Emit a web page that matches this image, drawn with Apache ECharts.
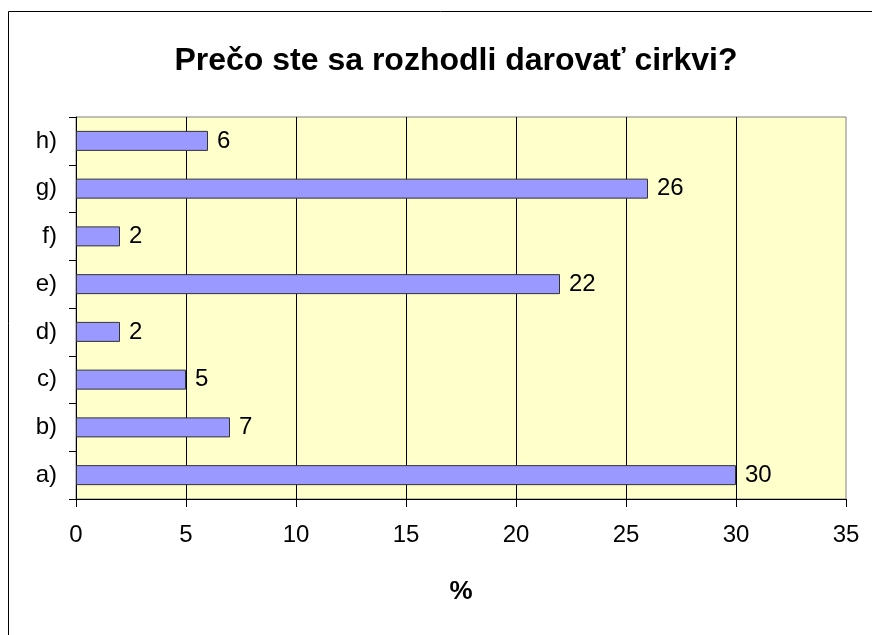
<!DOCTYPE html>
<html>
<head>
<meta charset="utf-8">
<script src="https://cdn.jsdelivr.net/npm/echarts@6/dist/echarts.min.js"></script>
<style>
  html, body { margin: 0; padding: 0; background: #fff; }
  #main { width: 872px; height: 635px; }
</style>
</head>
<body>
<div id="main"></div>
<script>
// údaje z grafu
var categories = ['a)', 'b)', 'c)', 'd)', 'e)', 'f)', 'g)', 'h)'];
var values = [30, 7, 5, 2, 22, 2, 26, 6];
var xTicks = { min: 0, max: 35, interval: 5 };

var chart = echarts.init(document.getElementById('main'));
var option = {
    backgroundColor: '#ffffff',
    animation: false,
    textStyle: { fontFamily: 'Liberation Sans, Arial, sans-serif' },
    title: {
        text: 'Prečo ste sa rozhodli darovať cirkvi?',
        left: 451,
        textAlign: 'center',
        top: 40,
        textStyle: { fontSize: 32, fontWeight: 'bold', color: '#000', fontFamily: 'Liberation Sans, Arial, sans-serif' }
    },
    graphic: [{
        type: 'rect',
        shape: { x: 8.5, y: 11.5, width: 900, height: 700 },
        style: { fill: 'none', stroke: '#000', lineWidth: 1 },
        silent: true
    }],
    grid: {
        left: 76, right: 26, top: 117, bottom: 136,
        show: true,
        backgroundColor: '#FFFFCC',
        borderColor: '#808080',
        borderWidth: 1
    },
    xAxis: {
        type: 'value',
        min: xTicks.min, max: xTicks.max, interval: xTicks.interval,
        name: '%',
        nameLocation: 'middle',
        nameGap: 80,
        nameTextStyle: { fontSize: 26, fontWeight: 'bold', color: '#000' },
        axisLine: { show: true, lineStyle: { color: '#000', width: 1 } },
        axisTick: { show: true, length: 8, lineStyle: { color: '#000' } },
        axisLabel: { fontSize: 24, color: '#000', margin: 24 },
        splitLine: { show: true, showMinLine: false, showMaxLine: false, lineStyle: { color: '#000', width: 1 } }
    },
    yAxis: {
        type: 'category',
        data: categories,
        axisLine: { show: true, lineStyle: { color: '#000', width: 1 } },
        axisTick: { show: true, length: 7, lineStyle: { color: '#000' } },
        axisLabel: { fontSize: 24, color: '#000', margin: 19 },
        splitLine: { show: false }
    },
    series: [{
        type: 'bar',
        data: values,
        barWidth: 20,
        itemStyle: { color: '#9999FF', borderColor: '#333333', borderWidth: 1 },
        label: {
            show: true,
            position: 'right',
            distance: 9,
            fontSize: 24,
            color: '#000'
        }
    }]
};
chart.setOption(option);
</script>
</body>
</html>
